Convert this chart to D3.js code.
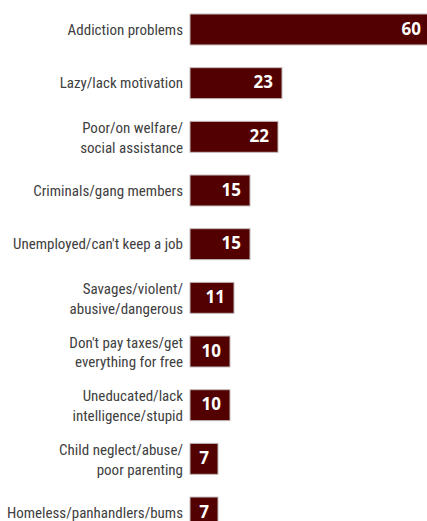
<!DOCTYPE html>
<html>
<head>
<meta charset="utf-8">
<script src="https://cdn.jsdelivr.net/npm/d3@7"></script>
<style>
  html, body { margin: 0; padding: 0; background: #fff; }
  svg { display: block; }
</style>
</head>
<body>
<div id="chart"></div>
<script>
// categories (lines of each label) and values
const categories = [
  ["Addiction problems"],
  ["Lazy/lack motivation"],
  ["Poor/on welfare/", "social assistance"],
  ["Criminals/gang members"],
  ["Unemployed/can't keep a job"],
  ["Savages/violent/", "abusive/dangerous"],
  ["Don't pay taxes/get", "everything for free"],
  ["Uneducated/lack", "intelligence/stupid"],
  ["Child neglect/abuse/", "poor parenting"],
  ["Homeless/panhandlers/bums"]
];
const values = [60, 23, 22, 15, 15, 11, 10, 10, 7, 7];

const W = 427, H = 521;
const data = categories.map((c, i) => ({ key: c.join(" "), lines: c, value: values[i] }));

const svg = d3.select("#chart").append("svg")
  .attr("width", W)
  .attr("height", H);

// scales
const x = d3.scaleLinear().domain([0, 60]).range([190, 430]);
const y = d3.scaleBand()
  .domain(data.map(d => d.key))
  .range([14, 528])
  .paddingInner(0.423)
  .paddingOuter(0);

const row = svg.selectAll("g.row")
  .data(data)
  .enter()
  .append("g")
  .attr("class", "row");

// bars
row.append("rect")
  .attr("x", x(0))
  .attr("y", d => y(d.key))
  .attr("width", d => x(d.value) - x(0))
  .attr("height", y.bandwidth())
  .attr("fill", "#530000")
  .attr("stroke", "#c4bcbc")
  .attr("stroke-width", 1);

// value labels
row.append("text")
  .attr("x", d => x(d.value) - 9)
  .attr("y", d => y(d.key) + y.bandwidth() / 2)
  .attr("dy", "0.3em")
  .attr("text-anchor", "end")
  .attr("fill", "#fff")
  .style("font-family", "'Open Sans', sans-serif")
  .style("font-weight", "700")
  .style("font-size", "17px")
  .text(d => d.value);

// category labels
row.append("text")
  .attr("x", x(0) - 7)
  .attr("y", d => y(d.key) + y.bandwidth() / 2)
  .attr("text-anchor", "end")
  .attr("fill", "#404040")
  .style("font-family", "'Liberation Sans Narrow', 'Roboto Condensed', sans-serif")
  .style("font-size", "15px")
  .selectAll("tspan")
  .data(d => d.lines.map((l, i) => ({ l, i, n: d.lines.length })))
  .enter()
  .append("tspan")
  .attr("x", x(0) - 7)
  .attr("dy", d => d.i === 0 ? (d.n === 1 ? "0.35em" : "-0.25em") : "1.3em")
  .text(d => d.l);
</script>
</body>
</html>
